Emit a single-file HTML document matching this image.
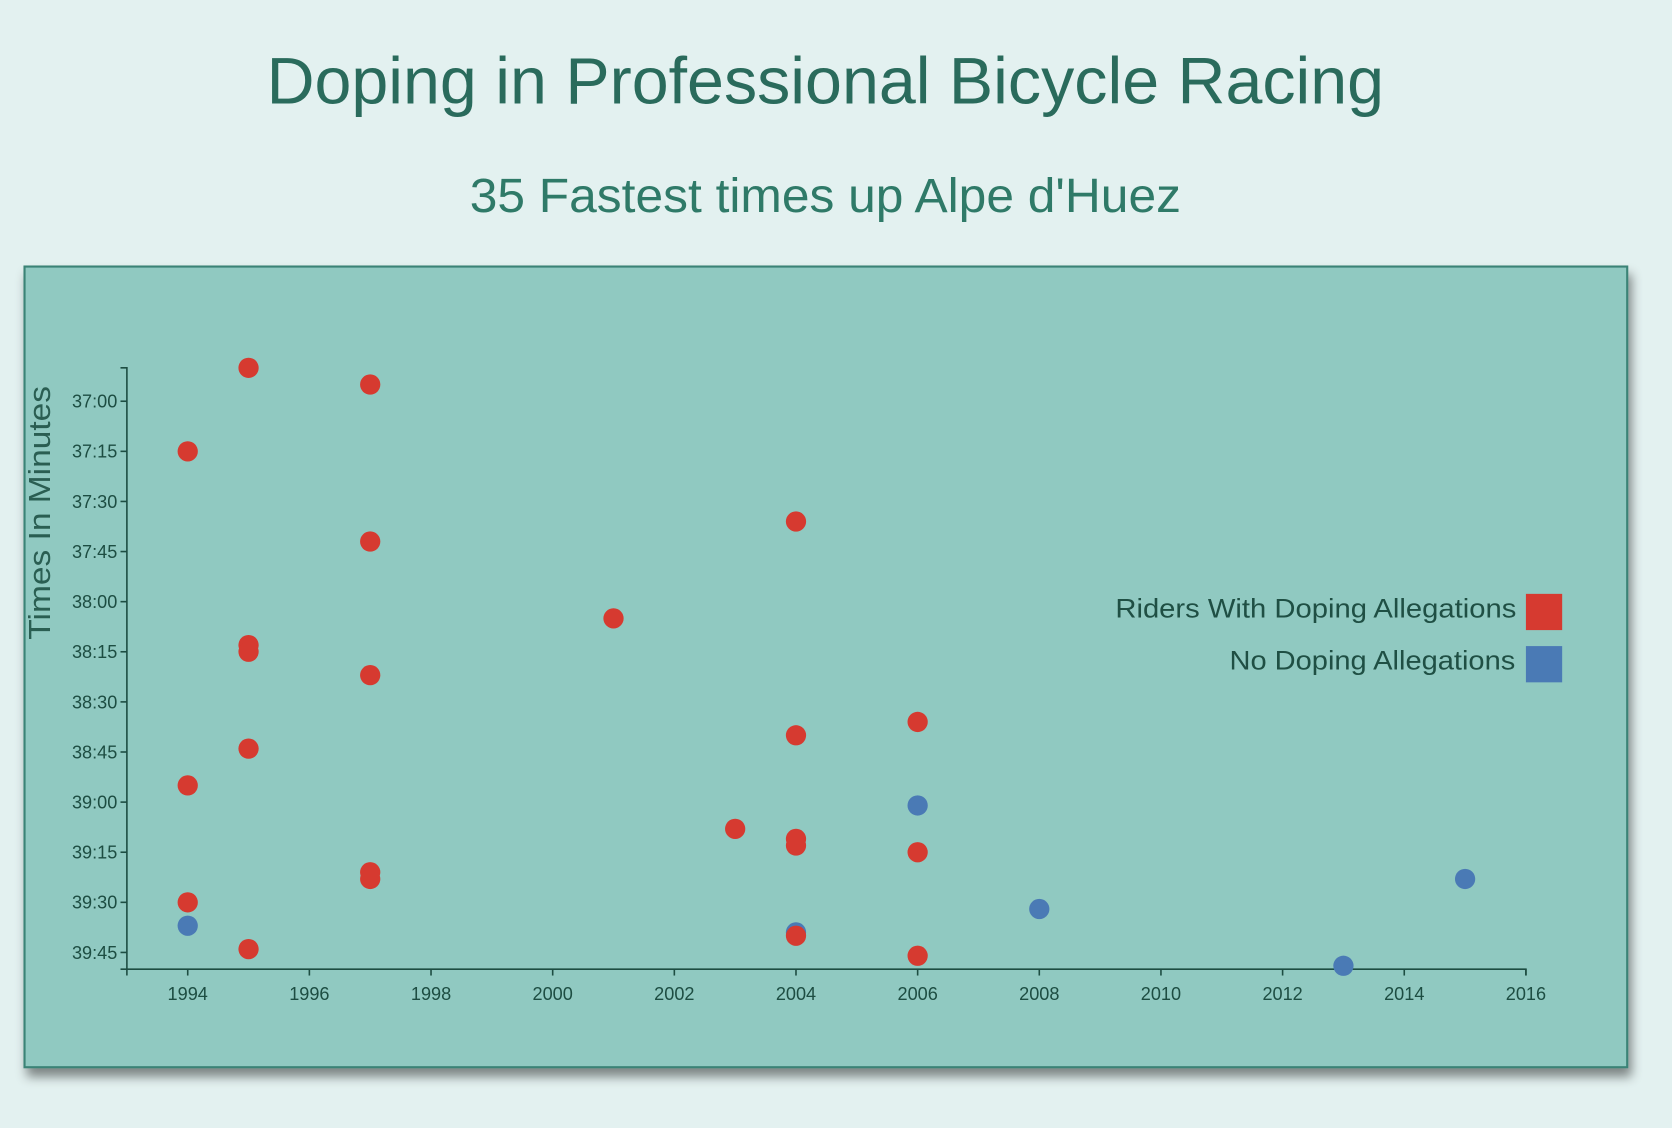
<!DOCTYPE html>
<html><head><meta charset="utf-8"><style>
html,body{margin:0;padding:0;background:#e3f1f0;overflow:hidden}
svg{display:block}
text{font-family:"Liberation Sans",sans-serif}
</style></head><body>
<svg id="c" width="1672" height="1128" viewBox="0 0 1568 1058" preserveAspectRatio="none">
<defs><filter id="sh" x="-5%" y="-5%" width="110%" height="115%"><feDropShadow dx="3" dy="8" stdDeviation="5" flood-color="#000" flood-opacity="0.45"/></filter></defs>
<rect width="1568" height="1058" fill="#e3f1f0"/>
<text x="774" y="97" text-anchor="middle" font-size="62" textLength="1048" lengthAdjust="spacingAndGlyphs" fill="#2a6b5c">Doping in Professional Bicycle Racing</text>
<text x="774" y="199" text-anchor="middle" font-size="45" textLength="667" lengthAdjust="spacingAndGlyphs" fill="#2f7a68">35 Fastest times up Alpe d'Huez</text>
<rect x="23" y="250" width="1503" height="751" fill="#90c9c1" stroke="#3a8376" stroke-width="2" filter="url(#sh)"/>
<text transform="translate(47,481) rotate(-90)" text-anchor="middle" font-size="29" textLength="238" lengthAdjust="spacingAndGlyphs" fill="#2a5e52">Times In Minutes</text>
<g id="axes"></g><g id="dots"></g>
<g>
<text x="1422" y="579" text-anchor="end" font-size="25" textLength="376" lengthAdjust="spacingAndGlyphs" fill="#1f4f44">Riders With Doping Allegations</text>
<rect x="1431" y="557" width="34" height="34" fill="#d63a30"/>
<text x="1421" y="628" text-anchor="end" font-size="25" textLength="268" lengthAdjust="spacingAndGlyphs" fill="#1f4f44">No Doping Allegations</text>
<rect x="1431" y="606" width="34" height="34" fill="#4a7ab5"/>
</g>
</svg>
<script>
const years = [1995,1997,1994,2004,1997,2001,1995,1995,1997,2006,2004,1995,1994,2006,2003,2004,2004,2006,1997,1997,2015,1994,2008,1994,2004,2004,1995,2006,2013];
const seconds = [2210,2215,2235,2256,2262,2285,2293,2295,2302,2316,2320,2324,2335,2341,2348,2351,2353,2355,2361,2363,2363,2370,2372,2377,2379,2380,2384,2386,2389];
const doping = [1,1,1,1,1,1,1,1,1,1,1,1,1,0,1,1,1,1,1,1,0,1,0,0,0,1,1,1,0];
const xTicks = [1994,1996,1998,2000,2002,2004,2006,2008,2010,2012,2014,2016];
const yTicks = [2220,2235,2250,2265,2280,2295,2310,2325,2340,2355,2370,2385];
const NS='http://www.w3.org/2000/svg';
const x0=119,x1=1431,y0=345,y1=909;
const xs=v=>x0+(v-1993)/(2016-1993)*(x1-x0);
const ys=v=>y0+(v-2210)/(2390-2210)*(y1-y0);
const fmt=s=>Math.floor(s/60)+':'+String(s%60).padStart(2,'0');
function mk(t,a,p){const e=document.createElementNS(NS,t);for(const k in a)e.setAttribute(k,a[k]);p.appendChild(e);return e;}
const ax=document.getElementById('axes');
const col='#1d4d42';
const yd=mk('path',{d:`M${x0-6},${y0}H${x0}V${y1}H${x0-6}`,fill:'none',stroke:col,'stroke-width':1.5},ax);


const xd=mk('path',{d:`M${x0},${y1+6}V${y1}H${x1}V${y1+6}`,fill:'none',stroke:col,'stroke-width':1.5},ax);


yTicks.forEach(v=>{const y=ys(v);
 mk('line',{x1:x0-6,x2:x0,y1:y,y2:y,stroke:col,'stroke-width':1.5},ax);
 const t=mk('text',{x:x0-9,y:y+6,'text-anchor':'end','font-size':17,fill:col},ax);t.textContent=fmt(v);
 
 });
xTicks.forEach(v=>{const x=xs(v);
 mk('line',{x1:x,x2:x,y1:y1,y2:y1+6,stroke:col,'stroke-width':1.5},ax);
 const t=mk('text',{x:x,y:y1+29,'text-anchor':'middle','font-size':17,fill:col},ax);t.textContent=v;
 
 });
const dg=document.getElementById('dots');
years.forEach((yr,i)=>{const c=mk('circle',{cx:xs(yr),cy:ys(seconds[i]),r:9.5,fill:doping[i]?'#d63a30':'#4a7ab5'},dg);
 
 });
</script>
</body></html>
